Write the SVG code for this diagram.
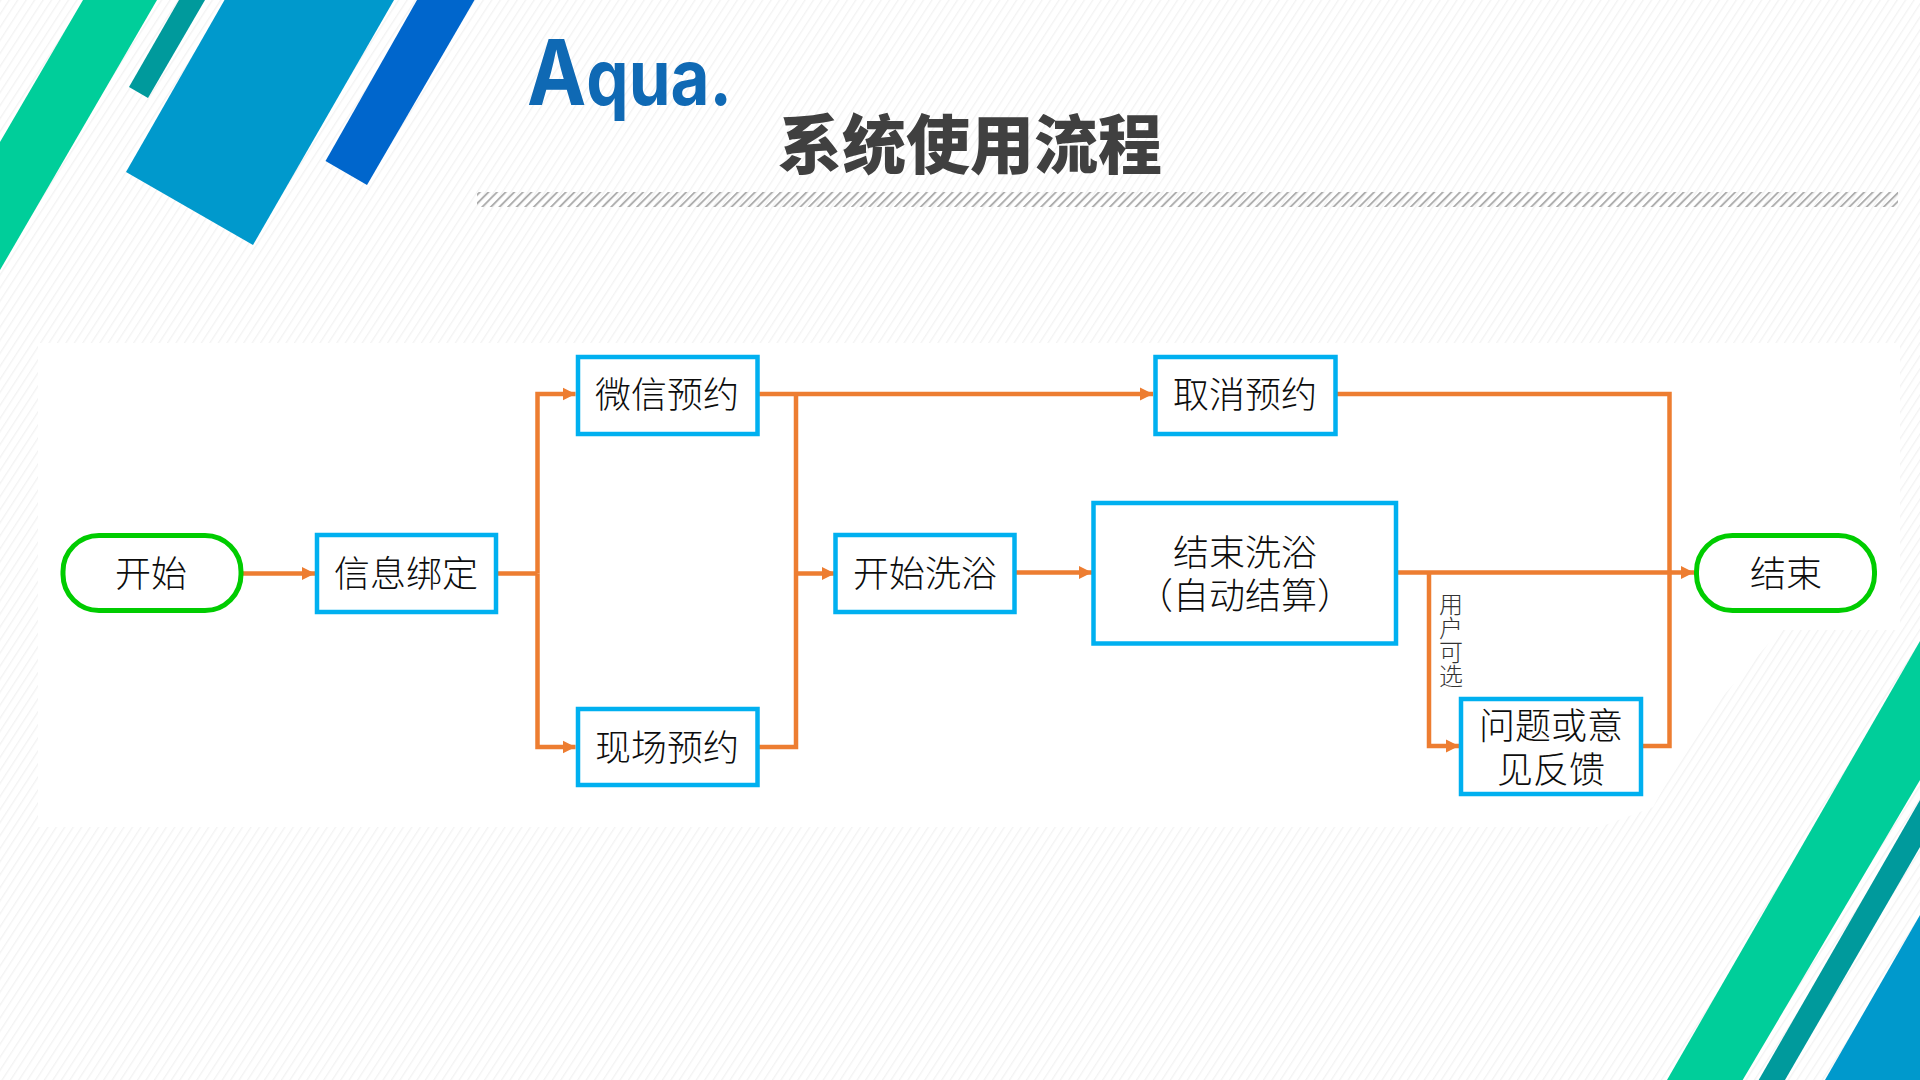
<svg xmlns="http://www.w3.org/2000/svg" width="1920" height="1080" viewBox="0 0 1920 1080">
<style>
.box{fill:#fff;stroke:#00b0f0;stroke-width:4.5}
.pill{fill:#fff;stroke:#00cc00;stroke-width:5}
.t{font-family:"Noto Sans CJK SC","Liberation Sans",sans-serif;font-size:36px;font-weight:300;fill:#0d0d0d;text-anchor:middle}
.c{fill:none;stroke:#ed7d31;stroke-width:4.5}
.a{marker-end:url(#arrow)}
</style>
<defs>
<pattern id="bg" width="7.1" height="20" patternUnits="userSpaceOnUse" patternTransform="rotate(33)"><rect width="7.1" height="20" fill="#fff"/><rect width="1.3" height="20" fill="#f3f3f3"/></pattern>
<pattern id="strip" width="6.08" height="20" patternUnits="userSpaceOnUse" patternTransform="rotate(45)"><rect width="1.9" height="20" fill="#aeaeae"/></pattern>
<marker id="arrow" markerUnits="userSpaceOnUse" markerWidth="14" markerHeight="14" refX="13" refY="7" orient="auto"><path d="M0 0.5L13 7L0 13.500Z" fill="#ed7d31"/></marker>
</defs>
<g id="background">
<rect width="1920" height="1080" fill="url(#bg)"/>
<path d="M38 343H1900V630H1780L1700 723L1653 807L1600 827H38Z" fill="#fff"/>
<path d="M83 0H157L0 270V142Z" fill="#00ce9a"/>
<path d="M179 0H205L148 98L129 87Z" fill="#009a9c"/>
<path d="M224.500 0H394L253 245L126 172Z" fill="#0099cc"/>
<path d="M417 0H474.500L367 185L325.500 161Z" fill="#0066cc"/>
<path d="M1920 641V780L1742.700 1080H1667Z" fill="#00ce9a"/>
<path d="M1920 800V847L1785 1080H1758.700Z" fill="#009a9c"/>
<path d="M1920 915V1080H1825Z" fill="#0099cc"/>
<rect x="477" y="192" width="1421" height="15" fill="url(#strip)"/>
</g>
<g id="logo"><text x="527" y="105" textLength="205" lengthAdjust="spacingAndGlyphs" font-family="Inter,'Liberation Sans',sans-serif" font-weight="700" fill="#0f69b4"><tspan font-size="91">A</tspan><tspan font-size="77">qua.</tspan></text></g>
<g id="title"><text x="970" y="168" font-family="'Noto Sans CJK SC',sans-serif" font-size="64" font-weight="900" fill="#404040" text-anchor="middle">系统使用流程</text></g>
<g id="connectors">
<path class="c a" d="M243 573.500H315"/>
<path class="c" d="M497 573.500H537.500"/>
<path class="c a" d="M537.500 573.500V394H575.500"/>
<path class="c a" d="M537.500 573.500V747H575.500"/>
<path class="c a" d="M759 394H1153"/>
<path class="c" d="M796 394V747H759"/>
<path class="c a" d="M796 573.500H835"/>
<path class="c a" d="M1016 572.500H1092"/>
<path class="c a" d="M1397 572.500H1694"/>
<path class="c a" d="M1429 572.500V746H1459"/>
<path class="c" d="M1337 394H1669.500V746H1643"/>
</g>
<g id="n-start"><rect class="pill" x="63" y="535.500" width="178" height="75" rx="36"/><text class="t" x="151" y="587">开始</text></g>
<g id="n-bind"><rect class="box" x="317" y="535" width="179" height="77"/><text class="t" x="406" y="587">信息绑定</text></g>
<g id="n-wechat"><rect class="box" x="578" y="357" width="179.500" height="77"/><text class="t" x="667" y="408">微信预约</text></g>
<g id="n-onsite"><rect class="box" x="578" y="709" width="179.500" height="76"/><text class="t" x="667" y="761">现场预约</text></g>
<g id="n-cancel"><rect class="box" x="1155.500" y="357" width="180" height="77"/><text class="t" x="1245" y="408">取消预约</text></g>
<g id="n-bath"><rect class="box" x="835.500" y="535" width="179" height="77"/><text class="t" x="925" y="587">开始洗浴</text></g>
<g id="n-finish"><rect class="box" x="1093.500" y="503" width="302.500" height="140.500"/><text class="t" x="1245" y="566">结束洗浴</text><text class="t" x="1245" y="609">（自动结算）</text></g>
<g id="n-feedback"><rect class="box" x="1461" y="699" width="180" height="95"/><text class="t" x="1551" y="739">问题或意</text><text class="t" x="1551" y="783">见反馈</text></g>
<g id="n-end"><rect class="pill" x="1696.500" y="535.500" width="178" height="75" rx="36"/><text class="t" x="1786" y="587">结束</text></g>
<g id="label"><text x="1451" y="592" writing-mode="vertical-rl" font-family="'Noto Sans CJK SC',sans-serif" font-size="24" font-weight="300" fill="#333">用户可选</text></g>
</svg>
